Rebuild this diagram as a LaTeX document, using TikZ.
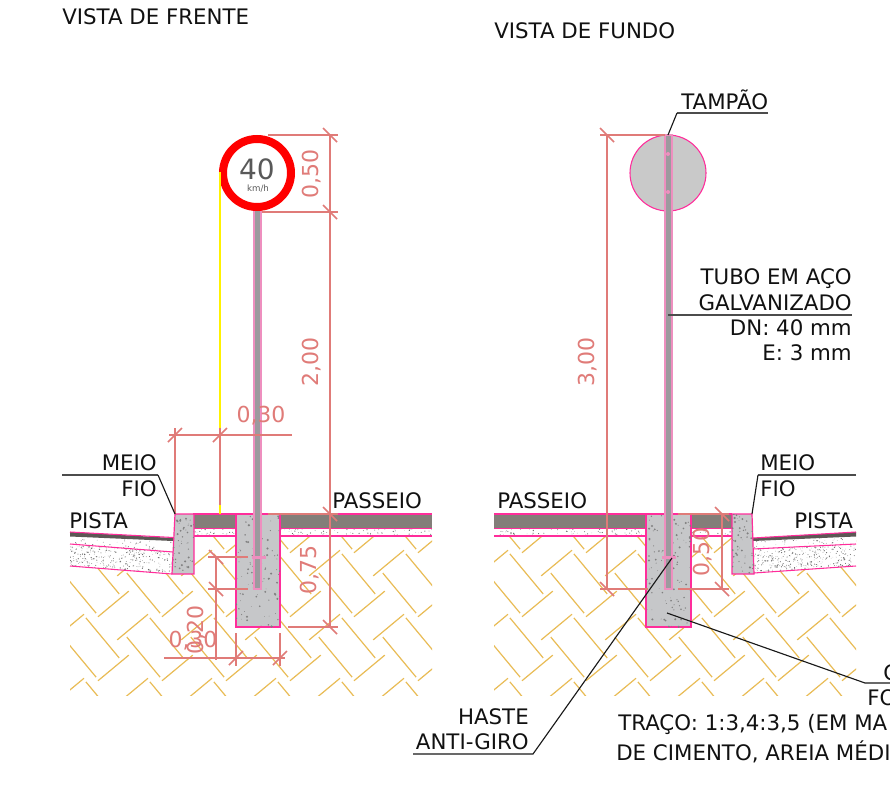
\documentclass[tikz,border=0pt]{standalone}
\usepackage{fontspec}
\setmainfont{DejaVu Sans}
\definecolor{dimc}{HTML}{E07B78}
\definecolor{pinkc}{HTML}{FF2D9B}
\definecolor{postp}{HTML}{EE8FBF}
\definecolor{conc}{HTML}{C6C7C9}
\definecolor{asph}{HTML}{837E79}
\definecolor{soil}{HTML}{E9BC55}
\definecolor{postg}{HTML}{9C9A9E}
\definecolor{labc}{HTML}{111111}
\newcommand{\dotsin}[5]{% x0 y0 w h count
  \foreach \k in {1,...,#5}{%
    \pgfmathsetmacro{\dx}{#1+rnd*#3}\pgfmathsetmacro{\dy}{#2+rnd*#4}\pgfmathsetmacro{\ds}{0.2+rnd*0.45}%
    \fill[black!60] (\dx,\dy) circle[radius=\ds];}}
\newcommand{\concspeck}[5]{%
  \foreach \k in {1,...,#5}{%
    \pgfmathsetmacro{\dx}{#1+rnd*#3}\pgfmathsetmacro{\dy}{#2+rnd*#4}\pgfmathsetmacro{\ds}{0.3+rnd*0.9}%
    \fill[black!50] (\dx,\dy) circle[radius=\ds];}}
\newcommand{\soilhatch}[4]{% x0 y0 x1 y1
  \begin{scope}
  \clip (#1,#2) rectangle (#3,#4);
  \foreach \ii in {-6,...,8}{\foreach \jj in {-6,...,8}{%
    \pgfmathsetmacro{\cx}{(#1+#3)/2+(\ii+\jj)*32}%
    \pgfmathsetmacro{\cy}{(#2+#4)/2+(\ii-\jj)*32}%
    \pgfmathtruncatemacro{\parit}{mod(\ii+\jj+20,2)}%
    \ifnum\parit=0
      \foreach \oo in {-15,15}{\draw[soilline] (\cx+\oo*0.64-20*0.77,\cy+\oo*0.77+20*0.64) -- (\cx+\oo*0.64+20*0.77,\cy+\oo*0.77-20*0.64);}
    \else
      \foreach \oo in {-15,15}{\draw[soilline] (\cx+\oo*0.77-26*0.64,\cy-\oo*0.64-26*0.77) -- (\cx+\oo*0.77+26*0.64,\cy-\oo*0.64+26*0.77);}
    \fi
  }}
  \end{scope}}
\tikzset{
  x=0.75pt,y=-0.75pt,
  lab/.style={font=\fontsize{16}{16}\selectfont,text=labc,inner sep=0pt,text height=12pt,text depth=0pt},
  labl/.style={lab,anchor=west},
  labr/.style={lab,anchor=east},
  dimtext/.style={font=\fontsize{16.5}{16.5}\selectfont,text=dimc,inner sep=0pt},
  dimline/.style={draw=dimc,line width=1.25pt},
  leader/.style={draw=black!90,line width=0.85pt},
  shelf/.style={draw=black!70,line width=1.1pt},
  pinkl/.style={draw=pinkc,line width=0.8pt},
  soilline/.style={draw=soil,line width=0.9pt},
  block/.style={fill=conc,draw=pinkc,line width=0.9pt},
  polep/.style={fill=postg,draw=postp,line width=1pt},
  bar/.style={fill=postp,draw=postp}
}
\newcommand{\tick}[2]{\draw[dimline] (#1-7,#2+7) -- (#1+7,#2-7);}
\newcommand{\rtick}[2]{\draw[dimline] (#1-7,#2-7) -- (#1+7,#2+7);}
\begin{document}
\begin{tikzpicture}
\useasboundingbox (0,0) rectangle (890,810);
\pgfmathsetseed{4242}
\fill[white] (0,0) rectangle (890,810);
% ---- soil
\soilhatch{70}{536}{432}{695}
\soilhatch{494}{536}{856}{695}
% ---- FRONT ground
\fill[white] (193,528) rectangle (432,536);
\fill[white] (70,531) -- (175,537) -- (172,574) -- (70,566) -- cycle;
\begin{scope}\clip (194,529) rectangle (432,536);\dotsin{194}{529}{238}{7}{130}\end{scope}
\begin{scope}\clip (70,544) -- (173,552) -- (172,574) -- (70,566) -- cycle;\dotsin{70}{544}{103}{30}{420}\end{scope}
\begin{scope}\clip (70,537) -- (173,542) -- (173,552) -- (70,544) -- cycle;\dotsin{70}{537}{103}{15}{70}\end{scope}
\fill[asph] (193,514) rectangle (432,528);
\draw[pinkl] (193,514) -- (432,514);
\draw[pinkl] (193,528.5) -- (432,528.5);
\draw[pinkl] (193,536) -- (432,536);
\fill[asph!70!black] (70,532) -- (173,538) -- (173,541) -- (70,536.5) -- cycle;
\draw[pinkl] (70,532) -- (173,537.5);
\draw[pinkl] (70,544) -- (173,552);
\draw[pinkl] (70,566) -- (172,574);
\draw[block] (175,514) -- (194,514) -- (194,574) -- (172,574) -- cycle;
\begin{scope}\clip (175,514) -- (194,514) -- (194,574) -- (172,574) -- cycle;\concspeck{172}{514}{22}{60}{50}\end{scope}
\draw[block] (236,514) rectangle (280,627);
\begin{scope}\clip (236,514) rectangle (280,627);\concspeck{236}{514}{44}{113}{95}\end{scope}
% ---- BACK ground
\fill[white] (494,528) rectangle (732,536);
\fill[white] (754,537) -- (856,531) -- (856,566) -- (754,573) -- cycle;
\begin{scope}\clip (494,529) rectangle (732,536);\dotsin{494}{529}{238}{7}{130}\end{scope}
\begin{scope}\clip (753,549) -- (856,544) -- (856,566) -- (754,573) -- cycle;\dotsin{753}{544}{103}{30}{420}\end{scope}
\begin{scope}\clip (753,541) -- (856,537) -- (856,544) -- (753,549) -- cycle;\dotsin{753}{537}{103}{12}{60}\end{scope}
\fill[asph] (494,514) rectangle (732,528);
\draw[pinkl] (494,514) -- (732,514);
\draw[pinkl] (494,528.5) -- (732,528.5);
\draw[pinkl] (494,536) -- (732,536);
\fill[asph!70!black] (753,538) -- (856,532) -- (856,536.5) -- (753,541) -- cycle;
\draw[pinkl] (753,538) -- (856,532);
\draw[pinkl] (753,549) -- (856,544);
\draw[pinkl] (754,573) -- (856,566);
\draw[block] (732,514) -- (752,514) -- (754,574) -- (732,574) -- cycle;
\begin{scope}\clip (732,514) -- (752,514) -- (754,574) -- (732,574) -- cycle;\concspeck{732}{514}{22}{60}{50}\end{scope}
\draw[block] (646,514) rectangle (691,627);
\begin{scope}\clip (646,514) rectangle (691,627);\concspeck{646}{514}{45}{113}{95}\end{scope}
% ---- FRONT sign and pole
\draw[polep] (254,205) rectangle (261,589);
\draw[bar] (252,556) rectangle (265,558.5);
\draw[draw=red,fill=white,line width=6pt] (257,173) circle[radius=34];
\node[font=\fontsize{21}{21}\selectfont,text=black!65,inner sep=0pt] (speed) at (257,169) {40};
\node[font=\fontsize{6.5}{6.5}\selectfont,text=black!65,inner sep=0pt] (unit) at (258,189) {km/h};
% ---- BACK sign and pole
\draw[fill=black!21,draw=pinkc,line width=0.8pt] (668,173) circle[radius=38];
\draw[polep] (665,135) rectangle (672,589);
\draw[bar] (662,556) rectangle (675,558.5);
\fill[postp] (668,154) circle[radius=2];
\fill[postp] (668,192) circle[radius=2];
% ---- dimensions front
\draw[yellow,line width=1pt] (220,172) -- (220,428);
\draw[yellow,line width=1pt] (220,505) -- (220,514);
\draw[dimline] (169,435) -- (292,435);
\draw[dimline] (175,428) -- (175,514);
\draw[dimline] (220,428) -- (220,505);
\tick{175}{435}\tick{220}{435}
\draw[dimline] (268,135) -- (338,135);
\draw[dimline] (262,212) -- (338,212);
\draw[dimline] (268,514) -- (338,514);
\draw[dimline] (288,627) -- (338,627);
\draw[dimline] (330,135) -- (330,627);
\rtick{330}{135}\rtick{330}{212}\rtick{330}{514}\rtick{330}{627}
\draw[dimline] (208,557) -- (248,557);
\draw[dimline] (208,589) -- (248,589);
\draw[dimline] (216,557) -- (216,660);
\rtick{216}{557}\rtick{216}{589}
\draw[dimline] (164,658) -- (285,658);
\draw[dimline] (236,633) -- (236,666);
\draw[dimline] (280,633) -- (280,666);
\tick{236}{658}\tick{280}{658}
\node[dimtext] (d030a) at (261,416) {0,30};
\node[dimtext,rotate=90] (d050a) at (312,174) {0,50};
\node[dimtext,rotate=90] (d200) at (312,362) {2,00};
\node[dimtext,rotate=90] (d075) at (310,570) {0,75};
\node[dimtext,rotate=90] (d020) at (197,630) {0,20};
\node[dimtext] (d030b) at (193,641) {0,30};
% ---- dimensions back
\draw[dimline] (600,135) -- (665,135);
\draw[dimline] (607,135) -- (607,589);
\draw[dimline] (600,589) -- (648,589);
\draw[dimline] (678,589) -- (729,589);
\draw[dimline] (678,514) -- (729,514);
\draw[dimline] (722,514) -- (722,589);
\rtick{607}{135}\rtick{607}{589}\rtick{722}{514}\rtick{722}{589}
\node[dimtext,rotate=90] (d300) at (588,362) {3,00};
\node[dimtext,rotate=90] (d050b) at (703,552) {0,50};
% ---- titles
\node[labl] (t1) at (62,17) {VISTA DE FRENTE};
\node[labl] (t2) at (494,30) {VISTA DE FUNDO};
\node[labl] (tamp) at (681,101) {TAMPÃO};
\node[labr] (tubo1) at (852,276) {TUBO EM AÇO};
\node[labr] (tubo2) at (852,302) {GALVANIZADO};
\node[labr] (tubo3) at (852,327) {DN: 40 mm};
\node[labr] (tubo4) at (852,352) {E: 3 mm};
\node[labr] (mf1) at (157,462) {MEIO};
\node[labr] (mf2) at (157,488) {FIO};
\node[labl] (pista1) at (69,520) {PISTA};
\node[labl] (pass1) at (332,500) {PASSEIO};
\node[labl] (pass2) at (497,500) {PASSEIO};
\node[labl] (mf3) at (760,462) {MEIO};
\node[labl] (mf4) at (760,488) {FIO};
\node[labl] (pista2) at (794,520) {PISTA};
\node[labr] (h1) at (529,716) {HASTE};
\node[labr] (h2) at (529,741) {ANTI-GIRO};
\node[labl] (c1) at (883,672) {C};
\node[labl] (c2) at (867,697) {FO};
\node[labl] (tr1) at (618,722) {TRAÇO: 1:3,4:3,5 (EM MA};
\node[labl] (tr2) at (616,752) {DE CIMENTO, AREIA MÉDI};
% ---- leaders
\coordinate (a1) at (677,113);\coordinate (a2) at (668,135);\coordinate (a3) at (768,113);
\draw[shelf] (a3) -- (a1); \draw[leader] (a1) -- (a2);
\coordinate (b1) at (668,315);\coordinate (b2) at (852,315);
\draw[shelf] (b1) -- (b2);
\coordinate (m1) at (62,475);\coordinate (m2) at (158,475);\coordinate (m3) at (175,514);
\draw[shelf] (m1) -- (m2); \draw[leader] (m2) -- (m3);
\coordinate (n1) at (856,475);\coordinate (n2) at (758,475);\coordinate (n3) at (752,514);
\draw[shelf] (n1) -- (n2); \draw[leader] (n2) -- (n3);
\coordinate (p1) at (413,754);\coordinate (p2) at (533,754);\coordinate (p3) at (672,558);
\draw[leader] (p1) -- (p2) -- (p3);
\coordinate (q1) at (667,613);\coordinate (q2) at (865,683);\coordinate (q3) at (890,683);
\draw[leader] (q1) -- (q2) -- (q3);
\end{tikzpicture}
\end{document}
